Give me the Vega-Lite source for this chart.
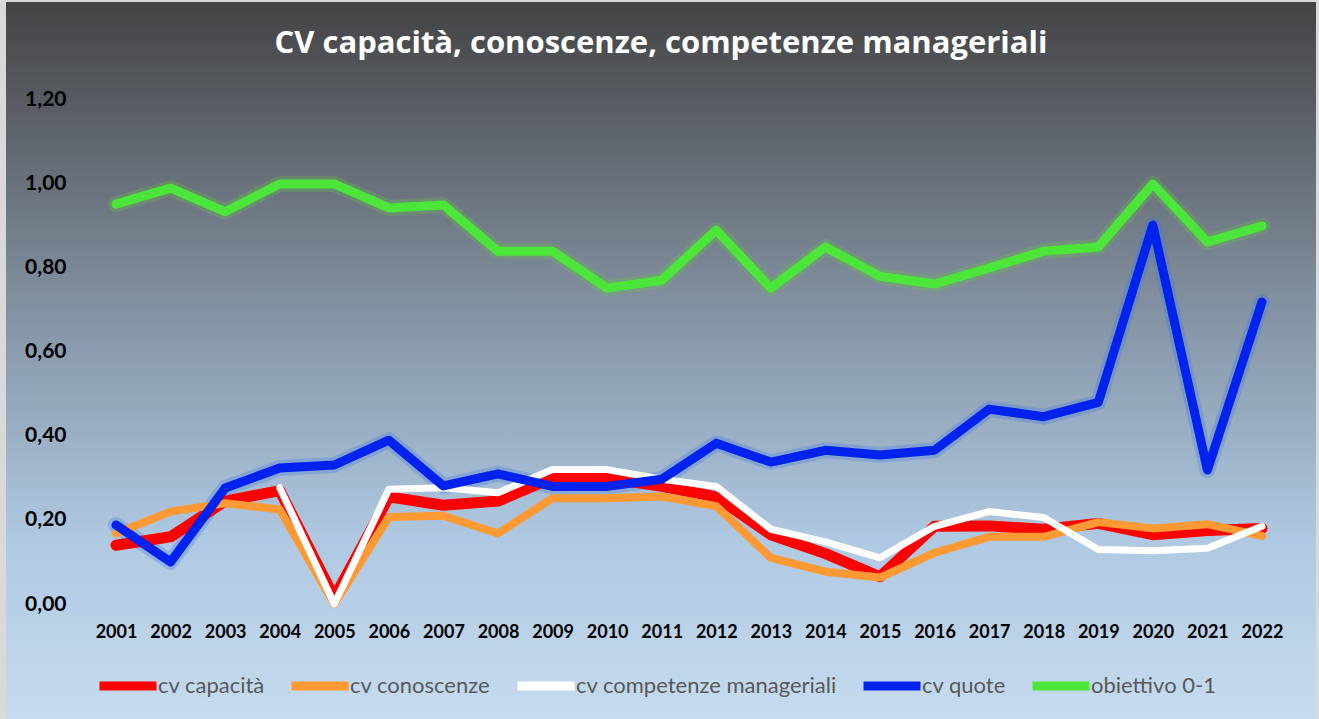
{
  "$schema": "https://vega.github.io/schema/vega-lite/v6.json",
  "width": 1310,
  "height": 717,
  "autosize": {"type": "none"},
  "padding": {"left": 6, "top": 2, "right": 3, "bottom": 0},
  "background": "#d9d9d9",
  "config": {
    "view": {
      "fill": {"gradient": "linear", "x1": 0, "y1": 0, "x2": 0, "y2": 1,
        "stops": [
          {"offset": 0, "color": "#424345"},
          {"offset": 0.15, "color": "#5a5e64"},
          {"offset": 0.45, "color": "#8696a7"},
          {"offset": 0.75, "color": "#afc9e2"},
          {"offset": 1, "color": "#c6dbef"}
        ]},
      "stroke": null
    }
  },
  "title": {
    "text": "CV capacità, conoscenze, competenze manageriali",
    "font": "Open Sans", "fontWeight": "bold", "fontSize": 31, "color": "#ffffff",
    "anchor": "middle", "offset": -58
  },
  "data": {"values": [
    {"year": 2001, "series": "cv capacità", "value": 0.14},
    {"year": 2002, "series": "cv capacità", "value": 0.16},
    {"year": 2003, "series": "cv capacità", "value": 0.245},
    {"year": 2004, "series": "cv capacità", "value": 0.27},
    {"year": 2005, "series": "cv capacità", "value": 0.015},
    {"year": 2006, "series": "cv capacità", "value": 0.255},
    {"year": 2007, "series": "cv capacità", "value": 0.235},
    {"year": 2008, "series": "cv capacità", "value": 0.245},
    {"year": 2009, "series": "cv capacità", "value": 0.30},
    {"year": 2010, "series": "cv capacità", "value": 0.30},
    {"year": 2011, "series": "cv capacità", "value": 0.28},
    {"year": 2012, "series": "cv capacità", "value": 0.255},
    {"year": 2013, "series": "cv capacità", "value": 0.165},
    {"year": 2014, "series": "cv capacità", "value": 0.12},
    {"year": 2015, "series": "cv capacità", "value": 0.065},
    {"year": 2016, "series": "cv capacità", "value": 0.185},
    {"year": 2017, "series": "cv capacità", "value": 0.186},
    {"year": 2018, "series": "cv capacità", "value": 0.178},
    {"year": 2019, "series": "cv capacità", "value": 0.192},
    {"year": 2020, "series": "cv capacità", "value": 0.165},
    {"year": 2021, "series": "cv capacità", "value": 0.175},
    {"year": 2022, "series": "cv capacità", "value": 0.18},
    {"year": 2001, "series": "cv conoscenze", "value": 0.168},
    {"year": 2002, "series": "cv conoscenze", "value": 0.22},
    {"year": 2003, "series": "cv conoscenze", "value": 0.24},
    {"year": 2004, "series": "cv conoscenze", "value": 0.225},
    {"year": 2005, "series": "cv conoscenze", "value": 0.0},
    {"year": 2006, "series": "cv conoscenze", "value": 0.207},
    {"year": 2007, "series": "cv conoscenze", "value": 0.21},
    {"year": 2008, "series": "cv conoscenze", "value": 0.168},
    {"year": 2009, "series": "cv conoscenze", "value": 0.252},
    {"year": 2010, "series": "cv conoscenze", "value": 0.252},
    {"year": 2011, "series": "cv conoscenze", "value": 0.256},
    {"year": 2012, "series": "cv conoscenze", "value": 0.233},
    {"year": 2013, "series": "cv conoscenze", "value": 0.11},
    {"year": 2014, "series": "cv conoscenze", "value": 0.077},
    {"year": 2015, "series": "cv conoscenze", "value": 0.063},
    {"year": 2016, "series": "cv conoscenze", "value": 0.122},
    {"year": 2017, "series": "cv conoscenze", "value": 0.16},
    {"year": 2018, "series": "cv conoscenze", "value": 0.16},
    {"year": 2019, "series": "cv conoscenze", "value": 0.195},
    {"year": 2020, "series": "cv conoscenze", "value": 0.18},
    {"year": 2021, "series": "cv conoscenze", "value": 0.19},
    {"year": 2022, "series": "cv conoscenze", "value": 0.162},
    {"year": 2004, "series": "cv competenze manageriali", "value": 0.277},
    {"year": 2005, "series": "cv competenze manageriali", "value": 0.0},
    {"year": 2006, "series": "cv competenze manageriali", "value": 0.273},
    {"year": 2007, "series": "cv competenze manageriali", "value": 0.277},
    {"year": 2008, "series": "cv competenze manageriali", "value": 0.265},
    {"year": 2009, "series": "cv competenze manageriali", "value": 0.32},
    {"year": 2010, "series": "cv competenze manageriali", "value": 0.32},
    {"year": 2011, "series": "cv competenze manageriali", "value": 0.297},
    {"year": 2012, "series": "cv competenze manageriali", "value": 0.28},
    {"year": 2013, "series": "cv competenze manageriali", "value": 0.178},
    {"year": 2014, "series": "cv competenze manageriali", "value": 0.148},
    {"year": 2015, "series": "cv competenze manageriali", "value": 0.11},
    {"year": 2016, "series": "cv competenze manageriali", "value": 0.185},
    {"year": 2017, "series": "cv competenze manageriali", "value": 0.22},
    {"year": 2018, "series": "cv competenze manageriali", "value": 0.206},
    {"year": 2019, "series": "cv competenze manageriali", "value": 0.13},
    {"year": 2020, "series": "cv competenze manageriali", "value": 0.127},
    {"year": 2021, "series": "cv competenze manageriali", "value": 0.133},
    {"year": 2022, "series": "cv competenze manageriali", "value": 0.185},
    {"year": 2001, "series": "cv quote", "value": 0.188},
    {"year": 2002, "series": "cv quote", "value": 0.10},
    {"year": 2003, "series": "cv quote", "value": 0.276},
    {"year": 2004, "series": "cv quote", "value": 0.324},
    {"year": 2005, "series": "cv quote", "value": 0.331},
    {"year": 2006, "series": "cv quote", "value": 0.39},
    {"year": 2007, "series": "cv quote", "value": 0.281},
    {"year": 2008, "series": "cv quote", "value": 0.31},
    {"year": 2009, "series": "cv quote", "value": 0.28},
    {"year": 2010, "series": "cv quote", "value": 0.28},
    {"year": 2011, "series": "cv quote", "value": 0.297},
    {"year": 2012, "series": "cv quote", "value": 0.383},
    {"year": 2013, "series": "cv quote", "value": 0.338},
    {"year": 2014, "series": "cv quote", "value": 0.366},
    {"year": 2015, "series": "cv quote", "value": 0.355},
    {"year": 2016, "series": "cv quote", "value": 0.366},
    {"year": 2017, "series": "cv quote", "value": 0.464},
    {"year": 2018, "series": "cv quote", "value": 0.446},
    {"year": 2019, "series": "cv quote", "value": 0.48},
    {"year": 2020, "series": "cv quote", "value": 0.902},
    {"year": 2021, "series": "cv quote", "value": 0.319},
    {"year": 2022, "series": "cv quote", "value": 0.719},
    {"year": 2001, "series": "obiettivo 0-1", "value": 0.952},
    {"year": 2002, "series": "obiettivo 0-1", "value": 0.99},
    {"year": 2003, "series": "obiettivo 0-1", "value": 0.934},
    {"year": 2004, "series": "obiettivo 0-1", "value": 1.0},
    {"year": 2005, "series": "obiettivo 0-1", "value": 1.0},
    {"year": 2006, "series": "obiettivo 0-1", "value": 0.943},
    {"year": 2007, "series": "obiettivo 0-1", "value": 0.95},
    {"year": 2008, "series": "obiettivo 0-1", "value": 0.84},
    {"year": 2009, "series": "obiettivo 0-1", "value": 0.84},
    {"year": 2010, "series": "obiettivo 0-1", "value": 0.752},
    {"year": 2011, "series": "obiettivo 0-1", "value": 0.771},
    {"year": 2012, "series": "obiettivo 0-1", "value": 0.89},
    {"year": 2013, "series": "obiettivo 0-1", "value": 0.752},
    {"year": 2014, "series": "obiettivo 0-1", "value": 0.85},
    {"year": 2015, "series": "obiettivo 0-1", "value": 0.78},
    {"year": 2016, "series": "obiettivo 0-1", "value": 0.762},
    {"year": 2017, "series": "obiettivo 0-1", "value": 0.80},
    {"year": 2018, "series": "obiettivo 0-1", "value": 0.84},
    {"year": 2019, "series": "obiettivo 0-1", "value": 0.85},
    {"year": 2020, "series": "obiettivo 0-1", "value": 1.0},
    {"year": 2021, "series": "obiettivo 0-1", "value": 0.862},
    {"year": 2022, "series": "obiettivo 0-1", "value": 0.90}
  ]},
  "encoding": {
    "x": {"field": "year", "type": "quantitative",
      "scale": {"domain": [1998.984, 2022.99], "nice": false, "zero": false},
      "axis": {"values": [2001,2002,2003,2004,2005,2006,2007,2008,2009,2010,2011,2012,2013,2014,2015,2016,2017,2018,2019,2020,2021,2022],
        "format": "d", "title": null, "domain": false, "ticks": false, "tickSize": 0, "grid": false,
        "labelFont": "Lato", "labelFontWeight": "bold", "labelFontSize": 18, "labelColor": "#000000",
        "offset": -115, "labelPadding": 28, "labelBaseline": "middle", "labelFlush": false, "labelOverlap": false}},
    "y": {"field": "value", "type": "quantitative",
      "scale": {"domain": [-0.2738, 1.4333], "nice": false, "zero": false},
      "axis": {"values": [0, 0.2, 0.4, 0.6, 0.8, 1, 1.2],
        "labelExpr": "replace(format(datum.value, '.2f'), '.', ',')",
        "title": null, "domain": false, "ticks": false, "tickSize": 0, "grid": false,
        "labelFont": "Lato", "labelFontWeight": "bold", "labelFontSize": 21, "labelColor": "#000000",
        "offset": -82, "labelPadding": 22, "labelFlush": false, "labelOverlap": false}}
  },
  "layer": [
    {
      "data": {"values": [{"value": 0}, {"value": 0.2}, {"value": 0.4}, {"value": 0.6}, {"value": 0.8}, {"value": 1.0}, {"value": 1.2}]},
      "mark": {"type": "rule", "color": "#d9d9d9", "strokeWidth": 2},
      "encoding": {
        "x": {"datum": 2000.49, "type": "quantitative",
          "scale": {"domain": [1998.984, 2022.99], "nice": false, "zero": false},
          "axis": {"values": [2001,2002,2003,2004,2005,2006,2007,2008,2009,2010,2011,2012,2013,2014,2015,2016,2017,2018,2019,2020,2021,2022],
            "format": "d", "title": null, "domain": false, "ticks": false, "tickSize": 0, "grid": false,
            "labelFont": "Lato", "labelFontWeight": "bold", "labelFontSize": 18, "labelColor": "#000000",
            "offset": -115, "labelPadding": 28, "labelBaseline": "middle", "labelFlush": false, "labelOverlap": false}},
        "x2": {"datum": 2022.48}
      }
    },
    {
      "transform": [{"filter": "datum.series === 'cv quote'"}],
      "mark": {"type": "line", "color": "#3f78e6", "strokeWidth": 16, "opacity": 0.3, "strokeCap": "round", "strokeJoin": "round"}
    },
    {
      "transform": [{"filter": "datum.series === 'obiettivo 0-1'"}],
      "mark": {"type": "line", "color": "#66c24a", "strokeWidth": 16, "opacity": 0.3, "strokeCap": "round", "strokeJoin": "round"}
    },
    {
      "mark": {"type": "line", "strokeCap": "round", "strokeJoin": "round"},
      "encoding": {
        "color": {"field": "series", "type": "nominal",
          "scale": {"domain": ["cv capacità", "cv conoscenze", "cv competenze manageriali", "cv quote", "obiettivo 0-1"],
            "range": ["#ff0000", "#ff9933", "#ffffff", "#0022ee", "#4ce63a"]},
          "legend": {"title": null, "orient": "none", "legendX": 89, "legendY": 651, "direction": "horizontal",
            "symbolType": "stroke", "symbolSize": 3249, "symbolStrokeWidth": 9,
            "labelFont": "Lato", "labelFontSize": 22, "labelColor": "#595959", "labelOffset": -3,
            "columnPadding": 8, "padding": 0, "labelLimit": 400}},
        "strokeWidth": {
          "condition": [
            {"test": "datum.series === 'cv capacità'", "value": 11},
            {"test": "datum.series === 'cv conoscenze'", "value": 8},
            {"test": "datum.series === 'cv competenze manageriali'", "value": 7}
          ],
          "value": 9
        }
      }
    }
  ]
}
